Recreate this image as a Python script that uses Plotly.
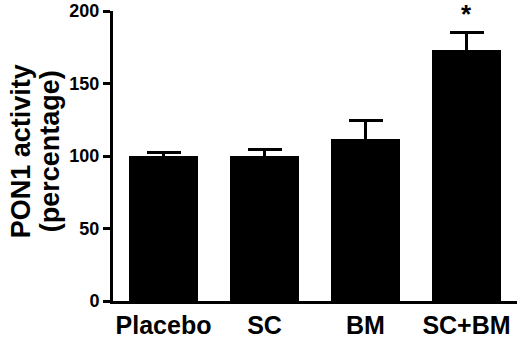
import plotly.graph_objects as go

categories = ["Placebo", "SC", "BM", "SC+BM"]
values = [100, 100, 112, 173]
errors_up = [2.5, 4.5, 12.5, 12]
y_ticks = [0, 50, 100, 150, 200]
significance = ["", "", "", "*"]
y_title_lines = ["PON1 activity", "(percentage)"]

FONT = "Liberation Sans, Arial, sans-serif"

fig = go.Figure()
fig.add_trace(go.Bar(
    x=categories,
    y=values,
    width=0.685,
    marker=dict(color="black", line=dict(width=0)),
    # lower whisker runs down inside the black bar to the axis line (hidden)
    error_y=dict(type="data", array=errors_up, arrayminus=values,
                 symmetric=False, color="black", thickness=3, width=17),
))

for c, v, e, s in zip(categories, values, errors_up, significance):
    if s:
        fig.add_annotation(x=c, y=v + e, yshift=19, text=s, showarrow=False,
                           yanchor="middle",
                           font=dict(family=FONT, size=26, color="black", weight="bold"))

for xp, line in zip([-0.2277, -0.156], y_title_lines):
    fig.add_annotation(
        text=line, xref="paper", yref="paper",
        x=xp, y=0.516, xanchor="center", yanchor="middle", textangle=-90,
        showarrow=False,
        font=dict(family=FONT, size=27, color="black", weight="bold"),
    )

fig.update_layout(
    width=520, height=341,
    margin=dict(l=113, r=3, t=11, b=40),
    plot_bgcolor="white", paper_bgcolor="white",
    showlegend=False,
    font=dict(family=FONT, color="black"),
    bargap=0,
)
fig.update_xaxes(
    range=[-0.5, 3.5], showline=True, linecolor="black", linewidth=3,
    ticks="", showgrid=False, zeroline=False, automargin=False,
    ticklabeloverflow="allow",
    tickfont=dict(family=FONT, size=25, color="black", weight="bold"),
)
fig.update_yaxes(
    range=[0, 200], tickvals=y_ticks, showline=True, linecolor="black", linewidth=3,
    ticks="outside", ticklen=7, tickwidth=3, tickcolor="black",
    showgrid=False, zeroline=False, automargin=False,
    ticklabeloverflow="allow",
    tickfont=dict(family=FONT, size=18, color="black", weight="bold"),
)

fig.write_html("out.html", config={"displayModeBar": False},
               post_script="document.body.style.margin='0';")
